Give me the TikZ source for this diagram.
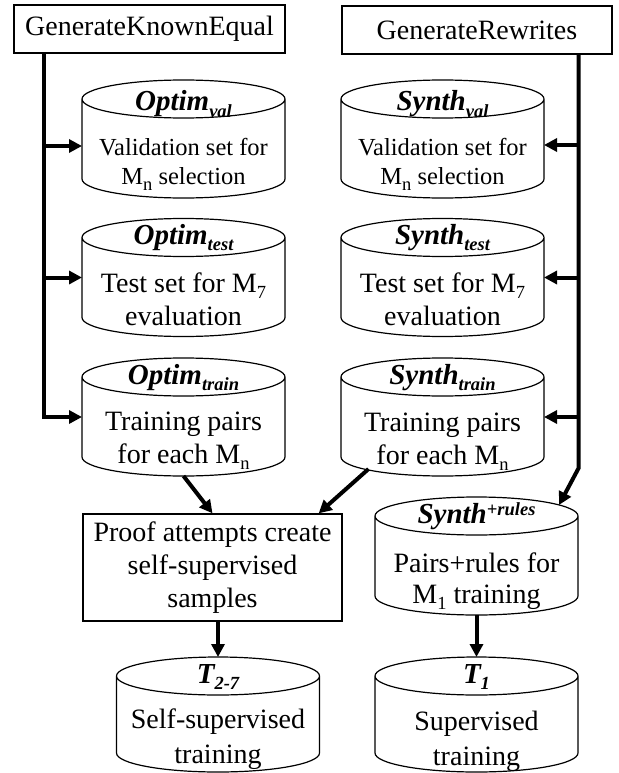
\documentclass[tikz,border=0pt]{standalone}
\usepackage{fontspec}
\setmainfont{Liberation Serif}
\usetikzlibrary{arrows.meta,calc}

\newcommand{\dbsub}[1]{\raisebox{-6pt}{\fontsize{18.5}{18.5}\selectfont #1}}
\newcommand{\dbsup}[1]{\raisebox{8pt}{\fontsize{18.5}{18.5}\selectfont #1}}
\newcommand{\lnup}{\rule{0pt}{20pt}}

\begin{document}
\begin{tikzpicture}[x=1pt, y=-1pt,
		procbox/.style={draw, line width=1.3pt, fill=white, inner sep=0pt, align=center, font=\fontsize{28}{33}\selectfont},
		dbase/.style={minimum width=203pt, minimum height=118pt, inner sep=0pt, outer sep=0pt},
		dbline/.style={draw, line width=1.2pt, fill=white},
		dbtitle/.style={anchor=base, inner sep=0pt, font=\fontsize{29}{29}\selectfont\bfseries\itshape},
		dbtext/.style={anchor=north, inner sep=0pt, align=center, font=\fontsize{28}{33}\selectfont},
		feed/.style={line width=4pt, -{Triangle[length=13pt,width=13pt]}}]
				\useasboundingbox (0,0) rectangle (618,773);
				% Generators, data sets and flows:
				\node[procbox, minimum width=271pt, minimum height=48pt] (gke) at (149.5,29) {GenerateKnownEqual};
				\node[procbox, minimum width=270pt, minimum height=48pt] (gr) at (477,30) {GenerateRewrites};
				\node[dbase] (ov) at (183.5,139) {};
				\node[dbase] (ot) at (183.5,277.5) {};
				\node[dbase] (otr) at (183.5,417) {};
				\node[dbase] (sv) at (442.5,139) {};
				\node[dbase] (st) at (442.5,277.5) {};
				\node[dbase] (str) at (442.5,417) {};
				\node[dbase] (sr) at (476.5,556) {};
				\node[dbase, minimum height=115pt] (t27) at (218,714.5) {};
				\node[dbase, minimum height=115pt] (t1) at (476.5,714.5) {};
				\node[procbox, minimum width=259pt, minimum height=107pt] (proof) at (212.5,567.5) {Proof attempts create\\self-supervised\\samples};
				\foreach \n in {ov,ot,otr,sv,st,str,sr,t27,t1}{
					\draw[dbline] ([yshift=-19pt]\n.north west) -- ([yshift=19pt]\n.south west)
						arc[start angle=180, end angle=360, x radius=101.5pt, y radius=19pt]
						-- ([yshift=-19pt]\n.north east)
						arc[start angle=0, end angle=360, x radius=101.5pt, y radius=19pt];
				}
				\node[dbtitle] (ov-t) at ($(ov.north)+(0pt,-31pt)$) {Optim\dbsub{val}};
				\node[dbtitle] (ot-t) at ($(ot.north)+(0pt,-26pt)$) {Optim\dbsub{test}};
				\node[dbtitle] (otr-t) at ($(otr.north)+(0pt,-26pt)$) {Optim\dbsub{train}};
				\node[dbtitle] (sv-t) at ($(sv.north)+(0pt,-31pt)$) {Synth\dbsub{val}};
				\node[dbtitle] (st-t) at ($(st.north)+(0pt,-26pt)$) {Synth\dbsub{test}};
				\node[dbtitle] (str-t) at ($(str.north)+(0pt,-26pt)$) {Synth\dbsub{train}};
				\node[dbtitle] (sr-t) at ($(sr.north)+(0pt,-26pt)$) {Synth\dbsup{+rules}};
				\node[dbtitle] (t27-t) at ($(t27.north)+(0pt,-26pt)$) {T\dbsub{2-7}};
				\node[dbtitle] (t1-t) at ($(t1.north)+(0pt,-26pt)$) {T\dbsub{1}};
				\node[dbtext, font=\fontsize{24.5}{29}\selectfont] (ov-b) at ($(ov.north)+(0pt,-55pt)$) {\lnup Validation set for\\M\dbsub{n} selection};
				\node[dbtext] (ot-b) at ($(ot.north)+(0pt,-54pt)$) {\lnup Test set for M\dbsub{7}\\evaluation};
				\node[dbtext] (otr-b) at ($(otr.north)+(0pt,-52pt)$) {\lnup Training pairs\\for each M\dbsub{n}};
				\node[dbtext, font=\fontsize{24.5}{29}\selectfont] (sv-b) at ($(sv.north)+(0pt,-55pt)$) {\lnup Validation set for\\M\dbsub{n} selection};
				\node[dbtext] (st-b) at ($(st.north)+(0pt,-54pt)$) {\lnup Test set for M\dbsub{7}\\evaluation};
				\node[dbtext] (str-b) at ($(str.north)+(0pt,-53pt)$) {\lnup Training pairs\\for each M\dbsub{n}};
				\node[dbtext, font=\fontsize{28}{31}\selectfont] (sr-b) at ($(sr.north)+(0pt,-55pt)$) {\lnup Pairs+rules for\\M\dbsub{1} training};
				\node[dbtext, font=\fontsize{28}{35}\selectfont] (t27-b) at ($(t27.north)+(0pt,-51pt)$) {\lnup Self-supervised\\training};
				\node[dbtext, font=\fontsize{28}{35}\selectfont] (t1-b) at ($(t1.north)+(0pt,-53pt)$) {\lnup Supervised\\training};
				\coordinate (kl) at ($(gke.south west)+(31pt,0pt)$);
				\coordinate (rr) at ($(gr.south east)+(-34pt,0pt)$);
				\coordinate (ovin) at ([yshift=-7pt]ov.west);
				\coordinate (svin) at ([yshift=-6pt]sv.east);
				\coordinate (rbend) at ($(rr |- str.south)+(0pt,8pt)$);
				\draw[feed] (kl) |- (otr.west);
				\draw[feed] (kl |- ovin) -- (ovin);
				\draw[feed] (kl |- ot.west) -- (ot.west);
				\draw[feed] (rr) -- (rbend) -- ($(sr.north east)+(-19pt,-8pt)$);
				\draw[feed] (rr |- svin) -- (svin);
				\draw[feed] (rr |- st.east) -- (st.east);
				\draw[feed] (rr |- str.east) -- (str.east);
				\draw[feed] (otr.south) -- (proof.north);
				\draw[feed] ($(str.south)+(-74pt,7pt)$) -- ($(proof.north east)+(-24pt,0pt)$);
				\draw[feed] (proof.south -| t27.north) -- (t27.north);
				\draw[feed] (sr.south) -- (t1.north);
			\end{tikzpicture}
\end{document}
